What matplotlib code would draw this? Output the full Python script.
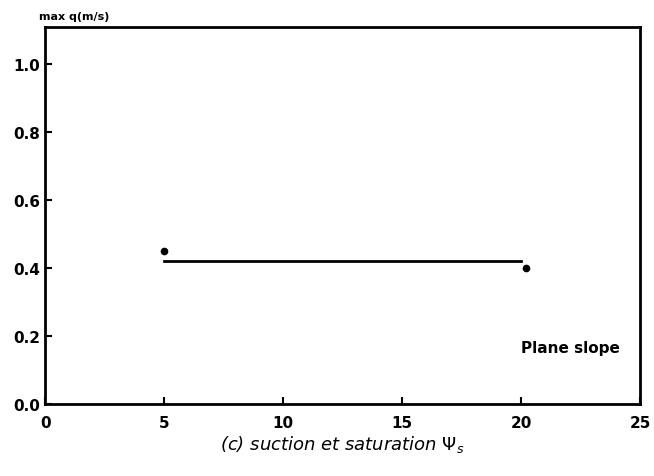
import matplotlib
matplotlib.use("Agg")
import matplotlib.pyplot as plt

# data
line_x = [5, 20]
line_y = [0.42, 0.42]
point_x = [5, 20.2]
point_y = [0.45, 0.40]
xticks = [0, 5, 10, 15, 20, 25]
yticks = [0.0, 0.2, 0.4, 0.6, 0.8, 1.0]
ytick_labels = ["0.0", "0.2", "0.4", "0.6", "0.8", "1.0"]

fig = plt.figure(figsize=(6.54, 4.77), dpi=100)
ax = fig.add_axes([0.069, 0.151, 0.910, 0.790])

ax.plot(line_x, line_y, color="black", lw=2)
ax.plot(point_x, point_y, linestyle="none", marker="o", ms=4.5, color="black")

ax.set_xlim(0, 25)
ax.set_ylim(0, 1.109)
ax.set_xticks(xticks)
ax.set_yticks(yticks)
ax.set_yticklabels(ytick_labels)
ax.tick_params(direction="in", length=5, width=1.5, labelsize=11)
for lbl in ax.get_xticklabels() + ax.get_yticklabels():
    lbl.set_fontweight("bold")
ax.tick_params(axis="x", pad=8)
for s in ax.spines.values():
    s.set_linewidth(2)

ax.text(0.80, 0.15, "Plane slope", transform=ax.transAxes, fontsize=11,
        fontweight="bold", va="center", ha="left")
fig.text(0.06, 0.965, "max q(m/s)", fontsize=8, fontweight="bold", va="center")
ax.set_xlabel(r"(c) suction et saturation $\Psi_s$", fontsize=13, style="italic", labelpad=2)

fig.savefig("out.png", dpi=100)
